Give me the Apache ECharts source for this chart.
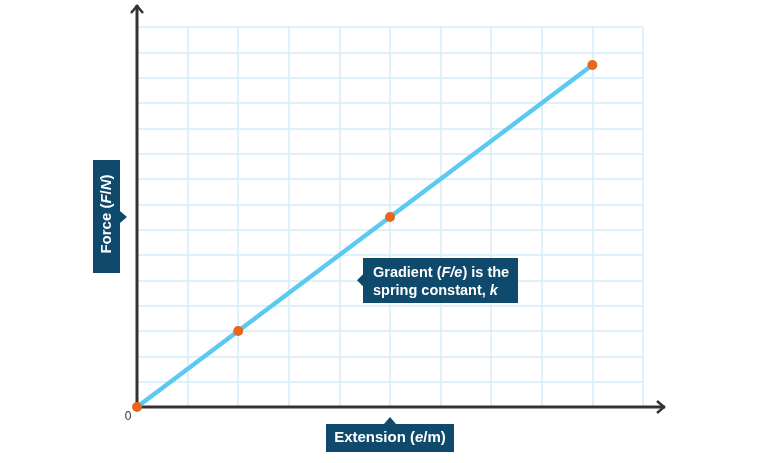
<!DOCTYPE html>
<html>
<head>
<meta charset="utf-8">
<script src="https://cdn.jsdelivr.net/npm/echarts@6/dist/echarts.min.js"></script>
<style>
html, body { margin: 0; padding: 0; background: #fff; }
#chart { width: 760px; height: 463px; }
</style>
</head>
<body>
<div id="chart"></div>
<script>
// 数据：弹簧的伸长量与受力
var extension = [0, 2, 5, 9];
var force = [0, 3, 7.5, 13.5];
var xRange = [0, 10];
var yRange = [0, 15];
var originLabel = '0';

var lineColor = '#5bc9f2';
var pointColor = '#e8671b';
var boxColor = '#0f4a6c';
var axisColor = '#333333';
var font = 'Liberation Sans, Arial, sans-serif';

var chart = echarts.init(document.getElementById('chart'));

var points = [];
for (var i = 0; i < extension.length; i++) {
    points.push([extension[i], force[i]]);
}

var option = {
    animation: false,
    grid: { left: 137, right: 117, top: 27, bottom: 56 },
    xAxis: {
        type: 'value',
        min: xRange[0], max: xRange[1], interval: 1,
        axisLine: { show: false },
        axisTick: { show: false },
        axisLabel: { show: false },
        splitLine: { lineStyle: { color: '#d5eefa', width: 1.5 } }
    },
    yAxis: {
        type: 'value',
        min: yRange[0], max: yRange[1], interval: 1,
        axisLine: { show: false },
        axisTick: { show: false },
        axisLabel: { show: false },
        splitLine: { lineStyle: { color: '#d5eefa', width: 1.5 } }
    },
    series: [{
        type: 'line',
        z: 5,
        data: points,
        symbol: 'circle',
        symbolSize: 10,
        itemStyle: { color: pointColor },
        lineStyle: { color: lineColor, width: 4.5 }
    }]
};
chart.setOption(option);

// 坐标轴和标注框，根据网格位置画
var o = chart.convertToPixel({ gridIndex: 0 }, [xRange[0], yRange[0]]);
var tr = chart.convertToPixel({ gridIndex: 0 }, [xRange[1], yRange[1]]);
var mid = chart.convertToPixel({ gridIndex: 0 }, [5, 7.5]);
var note = chart.convertToPixel({ gridIndex: 0 }, [4.5, 5]);
var xEnd = tr[0] + 22, yEnd = tr[1] - 22;

function callout(pts) {
    return { type: 'polygon', z: 2, shape: { points: pts }, style: { fill: boxColor } };
}

var textStyle = { fill: '#fff', font: 'bold 15px ' + font };
var italic = { fill: '#fff', font: 'italic bold 15px ' + font };

chart.setOption({
    graphic: [
        // y 轴
        { type: 'line', z: 3, shape: { x1: o[0], y1: o[1] + 1.5, x2: o[0], y2: yEnd }, style: { stroke: axisColor, lineWidth: 3 } },
        { type: 'polyline', z: 3, shape: { points: [[o[0] - 6, yEnd + 8], [o[0], yEnd + 1], [o[0] + 6, yEnd + 8]] }, style: { stroke: axisColor, lineWidth: 2.5, fill: null } },
        // x 轴
        { type: 'line', z: 3, shape: { x1: o[0] - 1.5, y1: o[1], x2: xEnd, y2: o[1] }, style: { stroke: axisColor, lineWidth: 3 } },
        { type: 'polyline', z: 3, shape: { points: [[xEnd - 8, o[1] - 6], [xEnd - 1, o[1]], [xEnd - 8, o[1] + 6]] }, style: { stroke: axisColor, lineWidth: 2.5, fill: null } },
        { type: 'text', z: 3, x: o[0] - 9, y: o[1] + 10, style: { text: originLabel, font: '12px ' + font, fill: axisColor, align: 'center', verticalAlign: 'middle' } },

        // Force 标签
        callout([[93, 160], [120, 160], [120, mid[1] - 6], [127, mid[1]], [120, mid[1] + 6], [120, 273], [93, 273]]),
        { type: 'text', z: 4, x: 107, y: 214, rotation: Math.PI / 2,
          style: { text: '{n|Force (}{i|F}{n|/}{i|N}{n|)}', align: 'center', verticalAlign: 'middle',
                   rich: { n: textStyle, i: italic } } },

        // Extension 标签
        callout([[326, 424], [mid[0] - 6, 424], [mid[0], 417], [mid[0] + 6, 424], [454, 424], [454, 452], [326, 452]]),
        { type: 'text', z: 4, x: 390, y: 438,
          style: { text: '{n|Extension (}{i|e}{n|/m)}', align: 'center', verticalAlign: 'middle',
                   rich: { n: textStyle, i: italic } } },

        // 斜率说明
        callout([[363, 258], [518, 258], [518, 303], [363, 303], [363, note[1] + 6], [357, note[1]], [363, note[1] - 6]]),
        { type: 'text', z: 4, x: 373, y: 281.5,
          style: { text: '{n|Gradient (}{i|F/e}{n|) is the}\n{n|spring constant, }{i|k}', align: 'left', verticalAlign: 'middle',
                   rich: { n: { fill: '#fff', font: 'bold 14.5px ' + font, lineHeight: 18 }, i: { fill: '#fff', font: 'italic bold 14.5px ' + font, lineHeight: 18 } } } }
    ]
});
</script>
</body>
</html>
